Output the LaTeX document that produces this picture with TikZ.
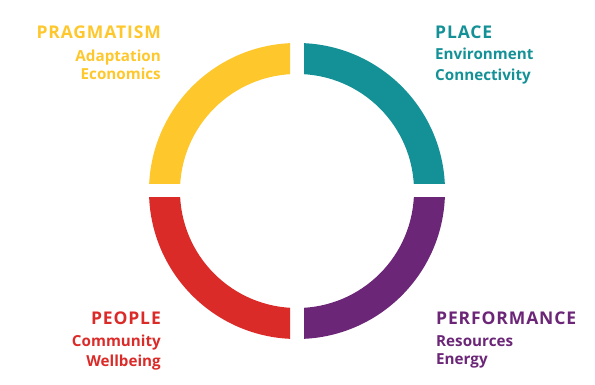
\documentclass[tikz,border=0pt]{standalone}
\usepackage{fontspec}
\setmainfont{Open Sans}
\usetikzlibrary{calc}
\definecolor{pragcol}{RGB}{254,199,44}
\definecolor{placecol}{RGB}{20,145,150}
\definecolor{peoplecol}{RGB}{219,43,41}
\definecolor{perfcol}{RGB}{108,38,120}
\tikzset{
  head/.style={font=\bfseries\fontsize{17.5}{20}\selectfont\addfontfeature{LetterSpace=5}, inner sep=0pt},
  sub/.style={font=\bfseries\fontsize{15.2}{18}\selectfont, inner sep=0pt}
}
\begin{document}
\begin{tikzpicture}[x=1pt, y=1pt]
				\useasboundingbox (0,0) rectangle (595,385);
				\coordinate (c) at (297,194);
				% ring quarters, cut apart by straight gaps
				\foreach \col/\sx/\sy in {pragcol/-1/1, placecol/1/1, peoplecol/-1/-1, perfcol/1/-1}{
					\begin{scope}
						\clip ($(c)+(\sx*7,\sy*7)$) rectangle ($(c)+(\sx*200,\sy*200)$);
						\fill[\col, even odd rule] (c) circle (148pt) (c) circle (117pt);
					\end{scope}
				}
				% labels
				\node[head, pragcol, anchor=base east] (prag) at (161,346) {PRAGMATISM};
				\node[sub, pragcol, anchor=base east] (adapt) at (161,323) {Adaptation};
				\node[sub, pragcol, anchor=base east] (econ) at (161,305) {Economics};
				\node[head, placecol, anchor=base west] (place) at (435,346) {PLACE};
				\node[sub, placecol, anchor=base west] (env) at (435,325) {Environment};
				\node[sub, placecol, anchor=base west] (conn) at (435,304) {Connectivity};
				\node[head, peoplecol, anchor=base east] (people) at (161,60) {PEOPLE};
				\node[sub, peoplecol, anchor=base east] (comm) at (161,38) {Community};
				\node[sub, peoplecol, anchor=base east] (well) at (161,18) {Wellbeing};
				\node[head, perfcol, anchor=base west] (perf) at (436,60) {PERFORMANCE};
				\node[sub, perfcol, anchor=base west] (res) at (436,38) {Resources};
				\node[sub, perfcol, anchor=base west] (energy) at (436,20) {Energy};
\end{tikzpicture}
\end{document}
